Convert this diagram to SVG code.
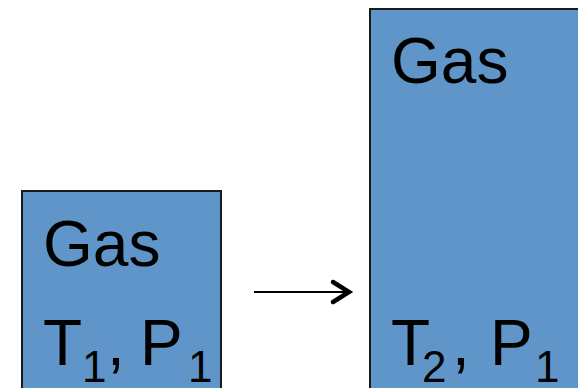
<svg xmlns="http://www.w3.org/2000/svg" width="578" height="388" viewBox="0 0 578 388">
<style>
.box{fill:#5F95C8;stroke:#1a1a1a;stroke-width:2}
.t{font-family:"Liberation Sans",Arial,sans-serif;font-size:64px;fill:#000}
.s{font-size:44px}
</style>
<rect width="578" height="388" fill="#fff"/>
<g id="gas1">
<rect class="box" x="22" y="191" width="199" height="210"/>
<text class="t" x="43" y="266">Gas</text>
<text class="t" y="365"><tspan x="43">T</tspan><tspan class="s" x="82" dy="17">1</tspan><tspan x="107" dy="-17">,</tspan><tspan x="140">P</tspan><tspan class="s" x="188" dy="17">1</tspan></text>
</g>
<g id="gas2">
<rect class="box" x="370" y="9" width="220" height="392"/>
<text class="t" x="391" y="83">Gas</text>
<text class="t" y="365"><tspan x="391">T</tspan><tspan class="s" x="422" dy="17">2</tspan><tspan x="452" dy="-17">,</tspan><tspan x="490">P</tspan><tspan class="s" x="535" dy="17">1</tspan></text>
</g>
<g id="connectors">
<line x1="254" y1="292" x2="350" y2="292" stroke="#000" stroke-width="2"/>
<polyline points="333,282 349,292 333,302" fill="none" stroke="#000" stroke-width="4.5" stroke-linecap="round" stroke-linejoin="miter"/>
</g>
</svg>
